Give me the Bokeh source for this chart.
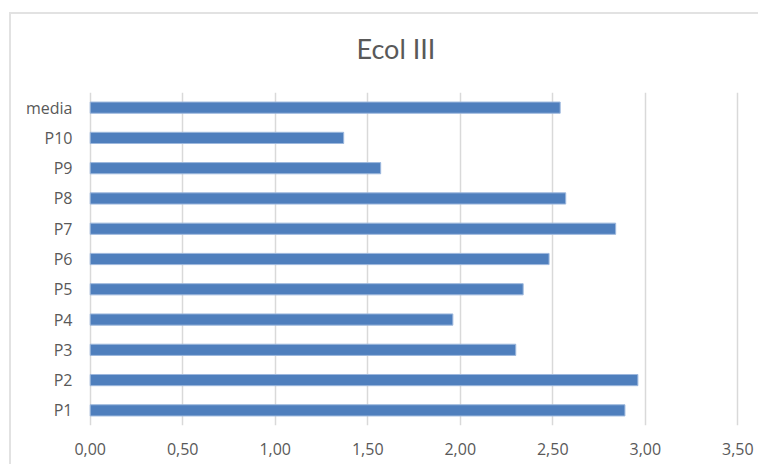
from bokeh.plotting import figure
from bokeh.models import FactorRange, Range1d, FixedTicker, Title
from bokeh.embed import file_html
from bokeh.resources import INLINE

title_text = "Ecol III"
categories = ["P1", "P2", "P3", "P4", "P5", "P6", "P7", "P8", "P9", "P10", "media"]
values = [2.89, 2.96, 2.30, 1.96, 2.34, 2.48, 2.84, 2.57, 1.57, 1.37, 2.54]
tick_values = [0.0, 0.5, 1.0, 1.5, 2.0, 2.5, 3.0, 3.5]
tick_labels = ["0,00", "0,50", "1,00", "1,50", "2,00", "2,50", "3,00", "3,50"]

TEXT = "#595959"
GRID = "#d9d9d9"

p = figure(
    width=749, height=452,
    y_range=FactorRange(factors=categories, range_padding=0),
    x_range=Range1d(-0.02, 3.52),
    output_backend="svg", toolbar_location=None,
    min_border_left=75, min_border_right=19,
    min_border_top=78, min_border_bottom=41,
)
p.styles = {
    "margin": "12px 0 0 9px",
    "border-top": "2px solid #e2e2e2",
    "border-left": "2px solid #e2e2e2",
}

p.title.text = ""
spacer = Title(text=" ", text_font_size="1px", standoff=25)
main_title = Title(text=title_text, align="left", offset=270,
                   vertical_align="bottom", standoff=0,
                   text_font="Lato", text_font_size="27px",
                   text_font_style="normal", text_color=TEXT)
p.add_layout(spacer, "above")
p.add_layout(main_title, "above")

p.hbar(y=categories, right=values, left=0, height=0.37,
       fill_color="#4f7fbd", line_color="#9db8dd", line_width=1)

p.outline_line_color = None
p.background_fill_color = "white"
p.border_fill_color = "white"

# x axis
p.xaxis.ticker = FixedTicker(ticks=tick_values)
p.xaxis.major_label_overrides = {v: l for v, l in zip(tick_values, tick_labels)}
p.xaxis.axis_line_color = None
p.xaxis.major_tick_line_color = None
p.xaxis.minor_tick_line_color = None
p.xaxis.major_label_standoff = 11
p.xaxis.major_label_text_font = "Open Sans"
p.xaxis.major_label_text_font_size = "16px"
p.xaxis.major_label_text_color = TEXT

# y axis
p.yaxis.axis_line_color = None
p.yaxis.major_tick_line_color = None
p.yaxis.minor_tick_line_color = None
p.yaxis.major_label_standoff = 8
p.yaxis.major_label_text_font = "Open Sans"
p.yaxis.major_label_text_font_size = "16px"
p.yaxis.major_label_text_color = TEXT

p.xgrid.ticker = FixedTicker(ticks=tick_values)
p.xgrid.grid_line_color = GRID
p.xgrid.grid_line_width = 1.5
p.ygrid.grid_line_color = None

open("out.html", "w").write(file_html(p, INLINE))
